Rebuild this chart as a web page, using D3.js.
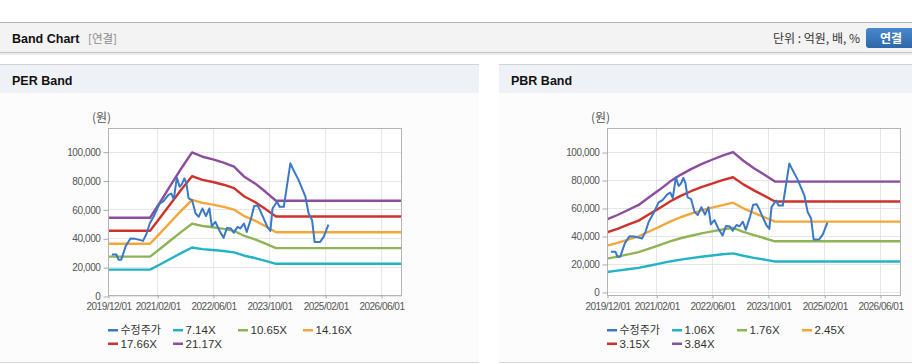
<!DOCTYPE html>
<html><head><meta charset="utf-8">
<script src="https://cdn.jsdelivr.net/npm/d3@7"></script>
<style>
html,body{margin:0;padding:0;background:#fff;}
svg{display:block;}
</style></head>
<body>
<svg id="c" width="912" height="364"></svg>
<script>
// ---- data ----
const priceName = "수정주가";
const priceDates = ["2020-01-04","2020-02-13","2020-03-01","2020-03-25","2020-05-04","2020-06-13","2020-07-25","2020-09-07","2020-10-01","2020-11-01","2020-11-28","2021-01-07","2021-02-22","2021-03-28","2021-05-10","2021-06-04","2021-06-25","2021-07-22","2021-08-15","2021-09-04","2021-09-25","2021-10-13","2021-11-01","2021-12-01","2022-01-01","2022-01-28","2022-03-01","2022-04-01","2022-05-01","2022-05-22","2022-06-22","2022-07-25","2022-09-01","2022-10-01","2022-11-04","2022-11-28","2023-01-01","2023-01-25","2023-02-25","2023-03-22","2023-04-28","2023-05-25","2023-06-25","2023-07-15","2023-08-22","2023-09-19","2023-10-13","2023-11-01","2023-12-10","2024-01-01","2024-02-07","2024-04-04","2024-05-01","2024-06-15","2024-08-13","2024-09-10","2024-10-10","2024-11-01","2024-12-19","2025-01-19","2025-03-01"];
const priceValues = [28700,28700,25200,25200,34700,39800,39600,38700,38200,43300,50200,56000,64000,65700,70000,71000,67000,82000,75700,77500,81500,78000,67600,66400,57200,54900,60600,55300,60600,48400,51400,45600,40300,47200,46800,43800,47900,46800,50200,44400,53700,62300,62700,59500,52500,47500,45100,60600,65300,61800,61800,91900,87300,80300,68800,57200,52500,37500,37500,41000,49500];

const perBandDates = ["2019-12-01","2020-12-01","2021-03-01","2021-06-01","2021-09-01","2021-12-01","2022-03-01","2022-06-01","2022-09-01","2022-12-01","2023-03-01","2023-06-01","2023-09-01","2023-12-01","2026-12-01"];
const perNames = ["7.14X","10.65X","14.16X","17.66X","21.17X"];
const perBand1 = [18300,18300,22000,26000,29900,33600,32500,31900,31200,30200,27900,26300,24300,22300,22300];
const perBand2 = [27300,27300,32900,38800,44600,50100,48500,47600,46500,45100,41600,39200,36300,33200,33200];
const perBand3 = [36200,36200,43700,51600,59300,66600,64500,63300,61800,59900,55300,52200,48300,44200,44200];
const perBand4 = [45200,45200,54500,64300,74000,83000,80500,79000,77100,74700,68900,65100,60200,55100,55100];
const perBand5 = [54200,54200,65300,77100,88700,99500,96500,94700,92400,89600,82600,78000,72200,66000,66000];

const pbrBandDates = ["2019-12-01","2020-03-01","2020-06-01","2020-09-01","2020-12-01","2021-03-01","2021-06-01","2021-09-01","2021-12-01","2022-03-01","2022-06-01","2022-09-01","2022-12-01","2023-03-01","2023-06-01","2023-09-01","2023-12-01","2026-12-01"];
const pbrNames = ["1.06X","1.76X","2.45X","3.15X","3.84X"];
const pbrBand1 = [14300,15200,16200,17200,18700,20200,21800,23100,24200,25200,26100,26900,27600,25900,24400,23100,21800,21800];
const pbrBand2 = [23800,25200,26900,28500,31000,33500,36200,38400,40200,41900,43300,44600,45800,43000,40600,38400,36200,36200];
const pbrBand3 = [33100,35100,37400,39700,43200,46600,50300,53400,56000,58300,60300,62100,63800,59800,56500,53400,50300,50300];
const pbrBand4 = [42600,45100,48100,51000,55500,59900,64700,68700,72000,75000,77500,79900,82000,76900,72600,68700,64700,64700];
const pbrBand5 = [51900,55000,58600,62200,67700,73000,78900,83700,87800,91400,94500,97400,100000,93800,88500,83700,78900,78900];

const xTickDates = ["2019-12-01","2021-02-01","2022-06-01","2023-10-01","2025-02-01","2026-06-01"];
const xTickLabels = ["2019/12/01","2021/02/01","2022/06/01","2023/10/01","2025/02/01","2026/06/01"];
const yTickValues = [0,20000,40000,60000,80000,100000];
const xDomain = ["2019-12-01","2026-12-01"];

const priceColor = "#3b78c6";
const bandColors = ["#22b4c6","#8fb455","#f4a63a","#cf322c","#8d4d9d"];

// ---- drawing ----
const parse = d3.timeParse("%Y-%m-%d");
const svg = d3.select("#c");
const KR = "'Noto Sans CJK KR','Noto Sans',sans-serif";
const LAT = "'Liberation Sans',Arial,sans-serif";

// top header
svg.append("rect").attr("x",0).attr("y",22).attr("width",912).attr("height",1).attr("fill","#b4b4b4");
svg.append("rect").attr("x",0).attr("y",23).attr("width",912).attr("height",29).attr("fill","#f3f3f3");
svg.append("rect").attr("x",0).attr("y",52).attr("width",912).attr("height",1).attr("fill","#c4c4c4");
svg.append("rect").attr("x",0).attr("y",53).attr("width",912).attr("height",2).attr("fill","#ececec");
svg.append("text").attr("x",12).attr("y",43).attr("font-family",LAT).attr("font-weight","bold")
  .attr("font-size","12.5px").attr("fill","#111").text("Band Chart");
svg.append("text").attr("x",88).attr("y",43).attr("font-family",KR)
  .attr("font-size","11.5px").attr("fill","#8a8a8a").text("[연결]");
svg.append("text").attr("x",860).attr("y",42.5).attr("text-anchor","end").attr("font-family",KR)
  .attr("font-size","12px").attr("fill","#333").text("단위 : 억원, 배, %");
const grad = svg.append("defs").append("linearGradient").attr("id","btn").attr("x1",0).attr("x2",0).attr("y1",0).attr("y2",1);
grad.append("stop").attr("offset","0%").attr("stop-color","#4a88cc");
grad.append("stop").attr("offset","100%").attr("stop-color","#2c67a8");
svg.append("rect").attr("x",866).attr("y",28).attr("width",52).attr("height",20).attr("rx",3).attr("fill","url(#btn)");
svg.append("text").attr("x",891).attr("y",42.5).attr("text-anchor","middle").attr("font-family",KR)
  .attr("font-weight","bold").attr("font-size","12px").attr("fill","#fff").text("연결");

function panel(cfg){
  const g = svg.append("g");
  g.append("rect").attr("x",cfg.px).attr("y",64).attr("width",cfg.pw).attr("height",1).attr("fill","#d2d2d2");
  g.append("rect").attr("x",cfg.px).attr("y",65).attr("width",cfg.pw).attr("height",28).attr("fill","#eef1f6");
  g.append("rect").attr("x",cfg.px).attr("y",93).attr("width",cfg.pw).attr("height",269).attr("fill","#fcfcfc");
  g.append("rect").attr("x",cfg.px).attr("y",362).attr("width",cfg.pw).attr("height",1).attr("fill","#d6d6d6");
  g.append("text").attr("x",cfg.px+12).attr("y",85).attr("font-family",LAT).attr("font-weight","bold")
    .attr("font-size","12.5px").attr("fill","#111").text(cfg.title);

  const x = d3.scaleTime().domain(xDomain.map(parse)).range([cfg.left, cfg.right]);
  const y = d3.scaleLinear().domain(cfg.yDomain).range([cfg.bottom, cfg.top]);

  g.append("rect").attr("x",cfg.left).attr("y",cfg.top).attr("width",cfg.right-cfg.left).attr("height",cfg.bottom-cfg.top).attr("fill","#fff");
  // grid
  g.append("g").selectAll("line").data(yTickValues).join("line")
    .attr("x1",cfg.left).attr("x2",cfg.right).attr("y1",d=>Math.round(y(d))+0.5).attr("y2",d=>Math.round(y(d))+0.5)
    .attr("stroke","#e6e6e6");
  g.append("g").selectAll("line").data(xTickDates).join("line")
    .attr("y1",cfg.top).attr("y2",cfg.bottom).attr("x1",d=>Math.round(x(parse(d)))+0.5).attr("x2",d=>Math.round(x(parse(d)))+0.5)
    .attr("stroke","#e6e6e6");

  const clipId = "clip"+cfg.title.replace(/\s/g,"");
  g.append("clipPath").attr("id",clipId).append("rect").attr("x",cfg.left).attr("y",cfg.top).attr("width",cfg.right-cfg.left).attr("height",cfg.bottom-cfg.top);
  const plot = g.append("g").attr("clip-path",`url(#${clipId})`);
  const line = d3.line().x(d=>x(d[0])).y(d=>y(d[1]));
  cfg.bands.forEach((b,i)=>{
    plot.append("path").attr("d", line(cfg.bandDates.map((d,j)=>[parse(d), b[j]])))
      .attr("fill","none").attr("stroke",bandColors[i]).attr("stroke-width",2.4).attr("stroke-linejoin","round");
  });
  plot.append("path").attr("d", line(priceDates.map((d,j)=>[parse(d), priceValues[j]])))
    .attr("fill","none").attr("stroke",priceColor).attr("stroke-width",2).attr("stroke-linejoin","round");

  // frame
  g.append("rect").attr("x",cfg.left+0.5).attr("y",cfg.top+0.5).attr("width",cfg.right-cfg.left-1).attr("height",cfg.bottom-cfg.top-1)
    .attr("fill","none").attr("stroke","#b4b4b4");

  // axes
  const yAxis = d3.axisLeft(y).tickValues(yTickValues).tickFormat(d3.format(",")).tickSize(5).tickPadding(3);
  const ya = g.append("g").attr("transform",`translate(${cfg.left+0.5},0.5)`).call(yAxis);
  ya.select(".domain").remove();
  ya.selectAll("line").attr("stroke","#aaa");
  ya.selectAll("text").attr("font-family",LAT).attr("font-size","10px").attr("letter-spacing","-0.4px").attr("fill","#555");

  const xAxis = d3.axisBottom(x).tickValues(xTickDates.map(parse)).tickFormat((d,i)=>xTickLabels[i]).tickSize(3).tickPadding(4);
  const xa = g.append("g").attr("transform",`translate(0.5,${cfg.bottom-0.5})`).call(xAxis);
  xa.select(".domain").remove();
  xa.selectAll("line").attr("stroke","#aaa");
  xa.selectAll("text").attr("font-family",LAT).attr("font-size","10px").attr("letter-spacing","-0.5px").attr("fill","#555");

  g.append("text").attr("x",cfg.unitX).attr("y",122).attr("font-family",KR).attr("font-size","12px").attr("fill","#555").text("(원)");

  // legend
  const names = [priceName].concat(cfg.names);
  const colors = [priceColor].concat(bandColors);
  names.forEach((n,i)=>{
    const col = i%4, row = Math.floor(i/4);
    const lx = cfg.left + col*65, ly = 330 + row*13.5;
    g.append("rect").attr("x",lx).attr("y",ly-1).attr("width",10).attr("height",2.5).attr("fill",colors[i]);
    g.append("text").attr("x",lx+12.5).attr("y",ly+4).attr("font-family", i===0?KR:LAT)
      .attr("font-size", i===0?"11px":"11.5px").attr("fill","#333").text(n);
  });
}

panel({title:"PER Band", px:0, pw:479, left:108, right:402, top:128, bottom:296, yDomain:[0,116400],
  bandDates:perBandDates, bands:[perBand1,perBand2,perBand3,perBand4,perBand5], names:perNames, unitX:92});
panel({title:"PBR Band", px:499, pw:413, left:607, right:901, top:128, bottom:296, yDomain:[-2900,117200],
  bandDates:pbrBandDates, bands:[pbrBand1,pbrBand2,pbrBand3,pbrBand4,pbrBand5], names:pbrNames, unitX:591});
</script>
</body></html>
